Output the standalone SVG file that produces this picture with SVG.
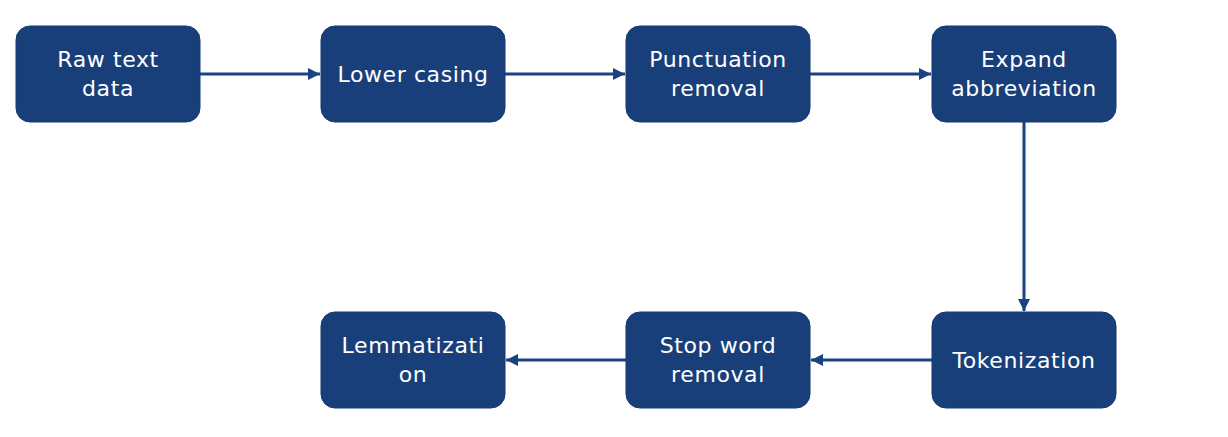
<svg xmlns="http://www.w3.org/2000/svg" width="1228" height="437" viewBox="0 0 1228 437">
<defs>
<style>
.box{fill:#193F7B;stroke:#163870;stroke-width:1}
.lbl{fill:#ffffff;font-family:"DejaVu Sans","Liberation Sans",sans-serif;font-size:22px;letter-spacing:0.6px;text-anchor:middle}
.con{stroke:#1B4282;stroke-width:3;fill:none}
</style>
<marker id="ah" viewBox="0 0 10 10" refX="10" refY="5" markerWidth="4" markerHeight="4" markerUnits="strokeWidth" orient="auto">
<path d="M0,0 L10,5 L0,10 z" fill="#1B4282"/>
</marker>
</defs>
<rect width="1228" height="437" fill="#ffffff"/>
<g id="connectors">
<line class="con" x1="200" y1="74" x2="320" y2="74" marker-end="url(#ah)"/>
<line class="con" x1="505" y1="74" x2="625" y2="74" marker-end="url(#ah)"/>
<line class="con" x1="810" y1="74" x2="931" y2="74" marker-end="url(#ah)"/>
<line class="con" x1="1024" y1="122" x2="1024" y2="311" marker-end="url(#ah)"/>
<line class="con" x1="932" y1="360" x2="811" y2="360" marker-end="url(#ah)"/>
<line class="con" x1="626" y1="360" x2="506" y2="360" marker-end="url(#ah)"/>
</g>
<g id="n1"><rect class="box" x="16" y="26" width="184" height="96" rx="14"/><text class="lbl" x="108" y="67">Raw text</text><text class="lbl" x="108" y="96">data</text></g>
<g id="n2"><rect class="box" x="321" y="26" width="184" height="96" rx="14"/><text class="lbl" x="413" y="82">Lower casing</text></g>
<g id="n3"><rect class="box" x="626" y="26" width="184" height="96" rx="14"/><text class="lbl" x="718" y="67">Punctuation</text><text class="lbl" x="718" y="96">removal</text></g>
<g id="n4"><rect class="box" x="932" y="26" width="184" height="96" rx="14"/><text class="lbl" x="1024" y="67">Expand</text><text class="lbl" x="1024" y="96">abbreviation</text></g>
<g id="n5"><rect class="box" x="932" y="312" width="184" height="96" rx="14"/><text class="lbl" x="1024" y="368">Tokenization</text></g>
<g id="n6"><rect class="box" x="626" y="312" width="184" height="96" rx="14"/><text class="lbl" x="718" y="353">Stop word</text><text class="lbl" x="718" y="382">removal</text></g>
<g id="n7"><rect class="box" x="321" y="312" width="184" height="96" rx="14"/><text class="lbl" x="413" y="353">Lemmatizati</text><text class="lbl" x="413" y="382">on</text></g>
</svg>
